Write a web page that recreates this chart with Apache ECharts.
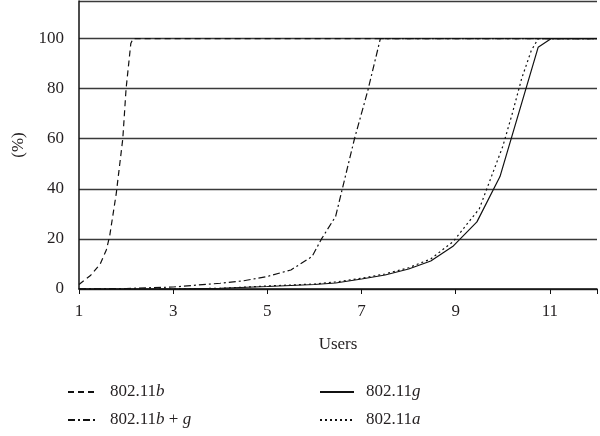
<!DOCTYPE html>
<html>
<head>
<meta charset="utf-8">
<script src="https://cdn.jsdelivr.net/npm/echarts@6/dist/echarts.min.js"></script>
<style>
  html, body { margin: 0; padding: 0; background: #fff; }
  #main { width: 600px; height: 436px; }
</style>
</head>
<body>
<div id="main"></div>
<script>
// users vs (%)
var seriesNames = ['802.11b', '802.11b + g', '802.11g', '802.11a'];

var data80211b = [
  [1, 1.8], [1.25, 5.5], [1.45, 10], [1.58, 15.6], [1.65, 21], [1.79, 38],
  [1.93, 60], [2.0, 80], [2.1, 98], [2.15, 100], [12, 100]
];
var data80211bg = [
  [1, 0], [2, 0.2], [3, 0.8], [4, 2.3], [4.5, 3.3], [5, 5], [5.5, 7.6],
  [5.95, 13], [6.15, 20], [6.45, 29], [6.85, 60], [7.13, 79], [7.4, 100], [12, 100]
];
var data80211g = [
  [1, 0], [3, 0], [4, 0.3], [5, 1], [6, 1.8], [6.45, 2.4], [7, 4], [7.5, 5.6],
  [8, 8], [8.47, 11.2], [8.95, 17.2], [9.45, 26.8], [9.94, 44.9], [10.75, 96.5],
  [11.03, 100], [12, 100]
];
var data80211a = [
  [1, 0], [3, 0], [4, 0.3], [5, 1.2], [6, 2], [6.45, 2.8], [7, 4.3], [7.5, 6],
  [8, 8.5], [8.47, 12], [8.95, 19], [9.2, 25], [9.5, 32], [9.7, 42], [10.0, 57],
  [10.2, 70], [10.4, 84], [10.6, 95], [10.75, 100], [12, 100]
];

var xTicks = [1, 3, 5, 7, 9, 11];
var yTicks = [0, 20, 40, 60, 80, 100];

var serif = '"Liberation Serif", "DejaVu Serif", serif';
var ink = '#231f20';

function legendLabel(name) {
  if (name === '802.11b + g') return '{n|802.11}{i|b}{n| + }{i|g}';
  return '{n|802.11}{i|' + name.slice(-1) + '}';
}

var legendText = {
  fontFamily: serif,
  fontSize: 17,
  color: ink,
  lineHeight: 20,
  padding: [0, 0, 0, 7],
  rich: {
    n: { fontFamily: serif, fontSize: 17, color: ink },
    i: { fontFamily: serif, fontSize: 17, color: ink, fontStyle: 'italic' }
  }
};

function line(name, data, type) {
  return {
    name: name,
    type: 'line',
    data: data,
    symbol: 'none',
    smooth: false,
    animation: false,
    lineStyle: { color: '#111', width: 1.2, type: type }
  };
}

var chart = echarts.init(document.getElementById('main'));
chart.setOption({
  backgroundColor: '#fff',
  animation: false,
  grid: { left: 79, top: 1, right: 0, bottom: 147 },
  legend: [
    {
      left: 67, top: 382, padding: 0, orient: 'vertical', itemWidth: 30, itemHeight: 14, itemGap: 8,
      data: [seriesNames[0], seriesNames[1]],
      formatter: legendLabel, textStyle: legendText,
      itemStyle: { opacity: 0 }
    },
    {
      left: 319, top: 382, padding: 0, orient: 'vertical', itemWidth: 34, itemHeight: 14, itemGap: 8,
      data: [seriesNames[2], seriesNames[3]],
      formatter: legendLabel, textStyle: legendText,
      itemStyle: { opacity: 0 }
    }
  ],
  xAxis: {
    type: 'value',
    min: 1,
    max: 12,
    interval: 2,
    name: 'Users',
    nameLocation: 'middle',
    nameGap: 47,
    nameTextStyle: { fontFamily: serif, fontSize: 17, color: ink },
    axisLine: { lineStyle: { color: '#111', width: 1.5 } },
    axisTick: { show: true, length: 5, inside: false, lineStyle: { color: '#111' } },
    axisLabel: {
      fontFamily: serif, fontSize: 17, color: ink, margin: 14,
      formatter: function (v) { return xTicks.indexOf(v) >= 0 ? String(v) : ''; }
    },
    splitLine: { show: false }
  },
  yAxis: {
    type: 'value',
    min: 0,
    max: 115,
    interval: 20,
    name: '(%)',
    nameLocation: 'middle',
    nameGap: 52,
    nameRotate: 90,
    nameTextStyle: { fontFamily: serif, fontSize: 17, color: ink },
    axisLine: { show: true, lineStyle: { color: '#111', width: 1.5 } },
    axisTick: { show: false },
    axisLabel: {
      fontFamily: serif, fontSize: 17, color: ink, margin: 15,
      formatter: function (v) { return yTicks.indexOf(v) >= 0 ? String(v) : ''; }
    },
    splitLine: { show: true, lineStyle: { color: '#3a3a3a', width: 1.3 } }
  },
  series: [
    line(seriesNames[0], data80211b, [6, 4]),
    line(seriesNames[1], data80211bg, [7, 3, 2, 3]),
    line(seriesNames[2], data80211g, 'solid'),
    line(seriesNames[3], data80211a, [2, 3])
  ]
});
</script>
</body>
</html>
